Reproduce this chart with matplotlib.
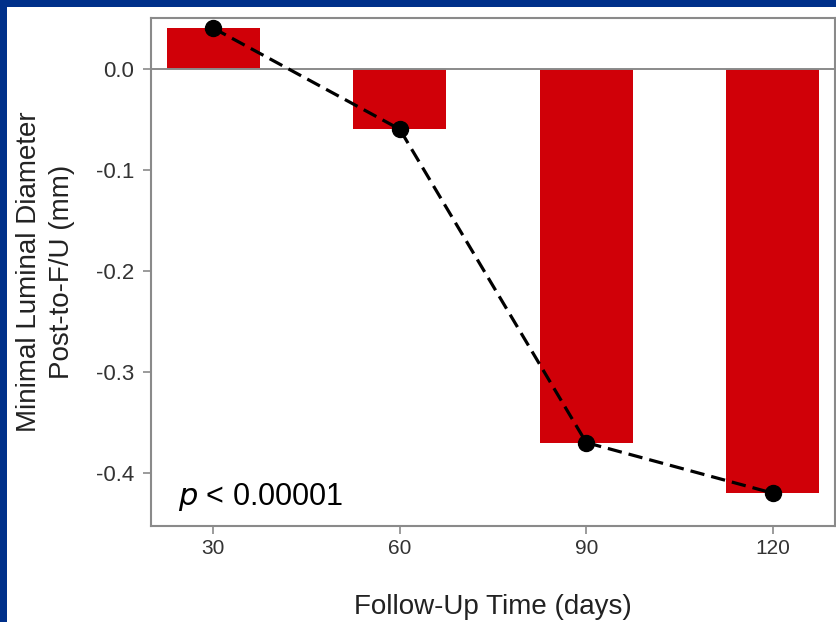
import matplotlib
matplotlib.use('Agg')
import matplotlib.pyplot as plt
from matplotlib.patches import Rectangle

# **Chart data**
days = [30, 60, 90, 120]
mld_change = [0.04, -0.06, -0.37, -0.42]
y_ticks = [0.0, -0.1, -0.2, -0.3, -0.4]
x_label = 'Follow-Up Time (days)'
y_label = 'Minimal Luminal Diameter\nPost-to-F/U (mm)'

plt.rcParams['font.family'] = ['Liberation Sans', 'DejaVu Sans']

fig = plt.figure(figsize=(8.37, 6.22), dpi=100, facecolor='#00308a')
# white slide area inside the blue border
fig.patches.append(Rectangle((7 / 837, 0), 1 - 7 / 837, 1 - 7 / 622,
                             transform=fig.transFigure, facecolor='white',
                             edgecolor='none', zorder=-10))

ax = fig.add_axes([151 / 837, 96 / 622, 684 / 837, 508 / 622])
ax.set_facecolor('white')

ax.bar(days, mld_change, width=15, color='#d00008', zorder=2)
ax.axhline(0, color='#8a8a8a', lw=1.4, zorder=3)
ax.plot(days, mld_change, color='black', lw=2.3, ls=(0, (4.5, 2.2)),
        marker='o', markersize=11.5, zorder=4)

ax.set_xlim(20, 130)
ax.set_ylim(-0.4525, 0.05)
ax.set_xticks(days)
ax.set_yticks(y_ticks)
ax.set_yticklabels([f'{v:.1f}' for v in y_ticks])

for s in ax.spines.values():
    s.set_color('#8a8a8a')
    s.set_linewidth(1.5)
ax.tick_params(direction='out', length=6, width=1.2, color='#8a8a8a',
               labelcolor='#333333')
ax.tick_params(axis='y', labelsize=16, pad=6)
ax.tick_params(axis='x', labelsize=15, pad=3)

ax.set_xlabel(x_label, fontsize=20, color='#222222', labelpad=26)
ax.set_ylabel(y_label, fontsize=20, color='#222222', labelpad=15, linespacing=1.35)

ax.text(24.3, -0.4317, r'$\it{p}$ < 0.00001', fontsize=22, color='black',
        va='baseline', ha='left', zorder=5)

plt.savefig('out.png', dpi=100, facecolor=fig.get_facecolor())
